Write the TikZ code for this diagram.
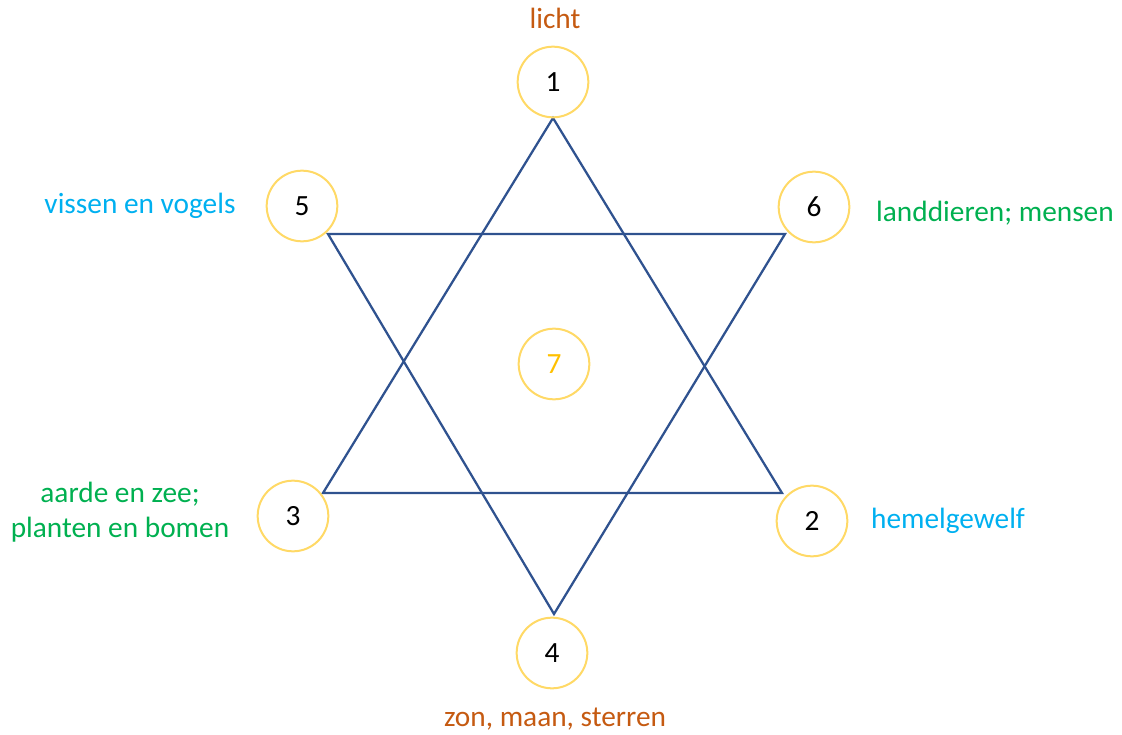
\documentclass[tikz,border=0pt]{standalone}
\usepackage{fontspec}
\setmainfont{Carlito}
\usepackage{tikz}
\definecolor{mygold}{RGB}{255,217,102}
\definecolor{myyellow}{RGB}{255,192,0}
\definecolor{myorange}{RGB}{197,90,17}
\definecolor{mycyan}{RGB}{0,176,240}
\definecolor{mygreen}{RGB}{0,176,80}
\definecolor{myblue}{RGB}{47,82,143}
\tikzset{
  dag/.style={circle, draw=mygold, line width=1.5pt, minimum size=53pt, inner sep=0pt, font=\fontsize{22}{26}\selectfont},
  werk/.style={font=\fontsize{22}{26.5}\selectfont, align=center},
  ster/.style={draw=myblue, line width=1.7pt, line join=miter}
}

\begin{document}
\begin{tikzpicture}[x=0.75pt, y=-0.75pt]
\useasboundingbox (0,0) rectangle (1122,735);

% driehoeken
\coordinate (t1) at (553,118);
\coordinate (t2) at (782,493);
\coordinate (t3) at (323,493);
\coordinate (b1) at (328,234);
\coordinate (b2) at (785,234);
\coordinate (b4) at (554,614);
\draw[ster] (t1) -- (t2) -- (t3) -- cycle;
\draw[ster] (b1) -- (b2) -- (b4) -- cycle;

% dagen
\node[dag] (d1) at (553,82) {1};
\node[dag] (d2) at (812,521) {2};
\node[dag] (d3) at (293,516) {3};
\node[dag] (d4) at (552,653) {4};
\node[dag] (d5) at (302,206) {5};
\node[dag] (d6) at (814,207) {6};
\node[dag, text=myyellow] (d7) at (554,364) {7};

% werken
\node[werk, text=myorange] (w1) at (555,18) {licht};
\node[werk, text=mycyan] (w2) at (948,521) {hemelgewelf};
\node[werk, text=mygreen] (w3) at (120,512) {aarde en zee;\\planten en bomen};
\node[werk, text=myorange] (w4) at (555,719) {zon, maan, sterren};
\node[werk, text=mycyan] (w5) at (140,206) {vissen en vogels};
\node[werk, text=mygreen] (w6) at (995,213) {landdieren; mensen};

\end{tikzpicture}
\end{document}
